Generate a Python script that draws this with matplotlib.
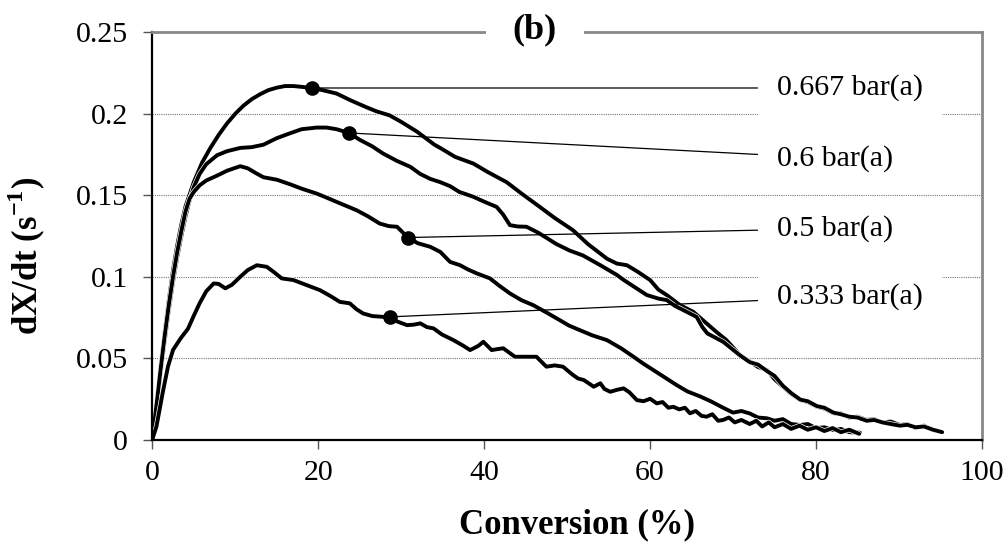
import matplotlib
matplotlib.use('Agg')
import matplotlib.pyplot as plt
import matplotlib.patheffects as pe

plt.rcParams['font.family'] = ['Liberation Serif', 'DejaVu Serif']
plt.rcParams['mathtext.fontset'] = 'custom'
plt.rcParams['mathtext.rm'] = 'Liberation Serif'
plt.rcParams['mathtext.bf'] = 'Liberation Serif:bold'

# conversion (%) vs dX/dt (1/s)
x_667 = [0, 0.5, 1, 1.5, 2, 2.5, 3, 3.5, 4, 5, 6, 7, 8, 9, 10, 11, 12, 13, 14, 15, 16, 17, 18, 19.3,
         20.5, 22.2, 24, 25.8, 27, 28.6, 30, 31.9, 34, 34.7, 36.5, 38.7, 40.5, 42.7, 44.5, 46.7, 48.5,
         50.7, 52.5, 54.8, 56, 57.2, 58.5, 60, 61, 62, 63.6, 65.2, 66.8, 68, 69.2, 70.8, 72, 73, 74.1,
         75, 76, 77, 78.1, 79, 80.1, 81, 82.1, 83, 84, 85, 86.1, 87, 88, 89, 90.1, 91, 92, 93, 94.1, 95]
y_667 = [0, 0.022, 0.045, 0.066, 0.086, 0.104, 0.119, 0.132, 0.143, 0.158, 0.17, 0.179, 0.187, 0.194,
         0.2, 0.205, 0.209, 0.212, 0.2145, 0.216, 0.217, 0.217, 0.2165, 0.2158,
         0.2145, 0.2124, 0.208, 0.204, 0.2015, 0.199, 0.195, 0.189, 0.181, 0.179, 0.1735, 0.1694, 0.164,
         0.158, 0.151, 0.1428, 0.136, 0.1285, 0.12, 0.111, 0.108, 0.107, 0.103, 0.0979, 0.092, 0.0887,
         0.0825, 0.0784, 0.0713, 0.066, 0.061, 0.052, 0.048, 0.0445, 0.0426, 0.037, 0.0324, 0.028, 0.0242,
         0.023, 0.0201, 0.019, 0.0161, 0.016, 0.0135, 0.014, 0.012, 0.0125, 0.0105, 0.011, 0.0089, 0.0095,
         0.007, 0.0085, 0.0058, 0.005]

x_6 = [0, 0.5, 1, 1.5, 2, 2.5, 3, 3.5, 4, 4.5, 5, 5.7, 6.5, 7.8, 9, 10.6, 12, 13.4, 15, 16.6, 18, 19.8,
       21, 22.2, 23.7, 25, 26.5, 27.8, 29.5, 31.1, 32.3, 33.5, 34.7, 35.9, 37, 38.7, 40, 41.5, 42.3, 43.1,
       44, 45.1, 46.5, 48.7, 50.3, 51.9, 54, 56, 56.8, 58, 59.6, 61, 62, 63, 64.4, 65.6, 66.3, 66.9, 68.8,
       70.8, 72, 73, 74.1, 75, 75.5, 76, 77, 78.1, 79, 80.1, 81, 82.1, 83, 84, 85, 86.1, 87, 88, 89, 90.1,
       91, 92, 93, 94.1, 95.2]
y_6 = [0, 0.02, 0.041, 0.061, 0.08, 0.097, 0.112, 0.125, 0.137, 0.147, 0.155, 0.163, 0.169, 0.1745,
       0.177, 0.179, 0.1795, 0.181, 0.185, 0.188, 0.1905, 0.1915, 0.1915, 0.1905, 0.1882, 0.184, 0.18,
       0.1756, 0.171, 0.1674, 0.163, 0.16, 0.158, 0.1555, 0.152, 0.149, 0.146, 0.1428, 0.138, 0.1316,
       0.1308, 0.1306, 0.127, 0.12, 0.116, 0.113, 0.107, 0.101, 0.098, 0.094, 0.0887, 0.0865, 0.0856,
       0.082, 0.0784, 0.0753, 0.069, 0.0651, 0.06, 0.0518, 0.0475, 0.046, 0.042, 0.039, 0.036, 0.033,
       0.0285, 0.0245, 0.0235, 0.0205, 0.0195, 0.0165, 0.0155, 0.014, 0.0135, 0.0115, 0.012, 0.0105,
       0.0095, 0.0085, 0.009, 0.0075, 0.008, 0.006, 0.0045]

x_5 = [0, 0.5, 1, 1.5, 2, 2.5, 3, 3.5, 4, 4.5, 5, 5.7, 6.5, 7.8, 9, 10.6, 11.5, 12.5, 13.4, 15, 16.6,
       18, 19.8, 21, 22.2, 24.6, 26, 27.4, 28.5, 29.5, 30.8, 32, 33.5, 34.7, 35.9, 37.1, 38, 39.1, 40.7,
       41.8, 43.1, 44.5, 45.9, 47.5, 49.1, 50.2, 51.5, 53, 54.8, 56.5, 58, 59.2, 60.4, 61.8, 63.2, 64.5,
       66, 67.3, 68.8, 70, 71, 72, 73, 74.1, 75, 76, 77, 78.1, 79, 80, 81, 82.1, 83, 84, 85.3]
y_5 = [0, 0.021, 0.043, 0.064, 0.083, 0.1, 0.115, 0.128, 0.14, 0.148, 0.152, 0.156, 0.159, 0.162,
       0.165, 0.1678, 0.1665, 0.1635, 0.161, 0.1595, 0.1567, 0.154, 0.151, 0.1485, 0.1459, 0.1408,
       0.137, 0.1326, 0.131, 0.1306, 0.124, 0.1205, 0.1183, 0.1152, 0.109, 0.107, 0.1045, 0.102, 0.0989,
       0.0945, 0.0897, 0.0855, 0.0825, 0.078, 0.0733, 0.07, 0.0672, 0.064, 0.061, 0.056, 0.0508, 0.0465,
       0.0426, 0.038, 0.0334, 0.0295, 0.0265, 0.0235, 0.0195, 0.0165, 0.0175, 0.016, 0.0135, 0.013,
       0.0115, 0.0125, 0.0095, 0.0089, 0.0095, 0.007, 0.0075, 0.0058, 0.0065, 0.0045, 0.0042]

x_333 = [0, 0.5, 1.3, 1.9, 2.5, 3.4, 4.3, 5, 5.7, 6.5, 7.4, 8, 8.8, 9.6, 10.6, 11.5, 12.6, 13.8, 14.6,
         15.6, 17, 18.5, 20.2, 21.5, 22.6, 23.8, 24.6, 25.4, 26.5, 27.8, 28.7, 29.5, 30.7, 31.5, 32.3,
         33.1, 33.9, 34.9, 36.3, 37.5, 38.3, 39.3, 39.9, 40.9, 41.6, 42.3, 43.7, 45, 46.3, 47.5, 48.5,
         49.5, 50.6, 51.3, 52, 52.6, 53.2, 54, 54.5, 55.2, 56, 56.8, 57.5, 58.4, 59.2, 60, 60.8, 61.5,
         62.2, 62.8, 63.5, 64.2, 64.8, 65.5, 66.2, 66.8, 67.5, 68.2, 68.8, 69.5, 70.2, 71, 72, 72.8,
         73.5, 74.3, 75, 76, 77, 78, 79, 80, 81, 82, 83, 84, 85.2]
y_333 = [0, 0.008, 0.03, 0.045, 0.055, 0.062, 0.068, 0.076, 0.0836, 0.091, 0.0958, 0.0955, 0.0928,
         0.095, 0.0999, 0.104, 0.107, 0.106, 0.103, 0.0989, 0.0979, 0.095, 0.0917, 0.088, 0.0845, 0.0836,
         0.08, 0.0774, 0.0758, 0.0753, 0.0753, 0.0725, 0.0702, 0.0705, 0.0713, 0.069, 0.0682, 0.0645,
         0.061, 0.0575, 0.0549, 0.0575, 0.06, 0.0549, 0.0555, 0.056, 0.0508, 0.0508, 0.0508, 0.0447,
         0.0455, 0.0447, 0.04, 0.0375, 0.0365, 0.0345, 0.0324, 0.0345, 0.031, 0.0293, 0.0305, 0.0314,
         0.029, 0.0242, 0.0235, 0.025, 0.0222, 0.023, 0.0195, 0.0201, 0.0185, 0.0195, 0.0161, 0.0175,
         0.0145, 0.014, 0.0155, 0.0115, 0.012, 0.0135, 0.0105, 0.012, 0.0095, 0.0115, 0.008, 0.0105,
         0.0075, 0.0095, 0.0065, 0.0085, 0.006, 0.0075, 0.0052, 0.007, 0.0045, 0.006, 0.0035]

series = [(x_667, y_667), (x_6, y_6), (x_5, y_5), (x_333, y_333)]
labels = ['0.667 bar(a)', '0.6 bar(a)', '0.5 bar(a)', '0.333 bar(a)']
# labelled points on each curve
marker_x = [19.3, 23.7, 30.8, 28.7]
marker_y = [0.2158, 0.1882, 0.124, 0.0753]
label_y = [0.2158, 0.1725, 0.1295, 0.0878]

xticks = [0, 20, 40, 60, 80, 100]
yticks = [0, 0.05, 0.1, 0.15, 0.2, 0.25]
ytick_labels = ['0', '0.05', '0.1', '0.15', '0.2', '0.25']

fig = plt.figure(figsize=(10.08, 5.5), dpi=100)
ax = fig.add_axes([0.1511, 0.2009, 0.8231, 0.7404])

outline = [pe.Stroke(linewidth=3.8, foreground='white'), pe.Normal()]
for xs, ys in series:
    ax.plot(xs, ys, color='black', lw=2.8, solid_joinstyle='round', solid_capstyle='round',
            path_effects=outline)

ax.plot(marker_x, marker_y, 'o', color='black', ms=9.5, zorder=4, ls='none')

for lab, mx, my, ly in zip(labels, marker_x, marker_y, label_y):
    ax.annotate(lab, xy=(mx, my), xytext=(75.3, ly), ha='left', va='center', fontsize=21.5,
                bbox=dict(boxstyle='square,pad=0.65', fc='white', ec='none'),
                arrowprops=dict(arrowstyle='-', color='black', lw=0.9, shrinkA=0, shrinkB=0),
                zorder=3)

ax.text(46.1, 0.2515, '(b)', ha='center', va='center', fontsize=26, fontweight='bold',
        bbox=dict(boxstyle='square,pad=0.75', fc='white', ec='none'), zorder=6, clip_on=False)

ax.set_xlim(0, 100)
ax.set_ylim(0, 0.25)
ax.set_xticks(xticks)
ax.set_xticklabels([str(t) for t in xticks])
ax.set_yticks(yticks)
ax.set_yticklabels(ytick_labels)
ax.tick_params(axis='both', direction='out', length=6.5, width=1, color='#555555',
               labelsize=21.5)
ax.tick_params(axis='y', pad=11)
ax.tick_params(axis='x', pad=8)

ax.set_axisbelow(True)
ax.yaxis.grid(True, linestyle=(0, (1, 1)), color='#777777', lw=0.8)

for side in ['left', 'bottom']:
    ax.spines[side].set_color('black')
    ax.spines[side].set_linewidth(1.6)
for side in ['top', 'right']:
    ax.spines[side].set_color('#888888')
    ax.spines[side].set_linewidth(2)

fig.text(27 / 1008, 1 - 256 / 550, r'dX/dt (s$^{\mathbf{-1}}$)', rotation=90, ha='center',
         va='center', fontsize=25, fontweight='bold')
fig.text(577 / 1008, 1 - 525 / 550, 'Conversion (%)', ha='center', va='center', fontsize=25,
         fontweight='bold')

fig.savefig('out.png', dpi=100)
